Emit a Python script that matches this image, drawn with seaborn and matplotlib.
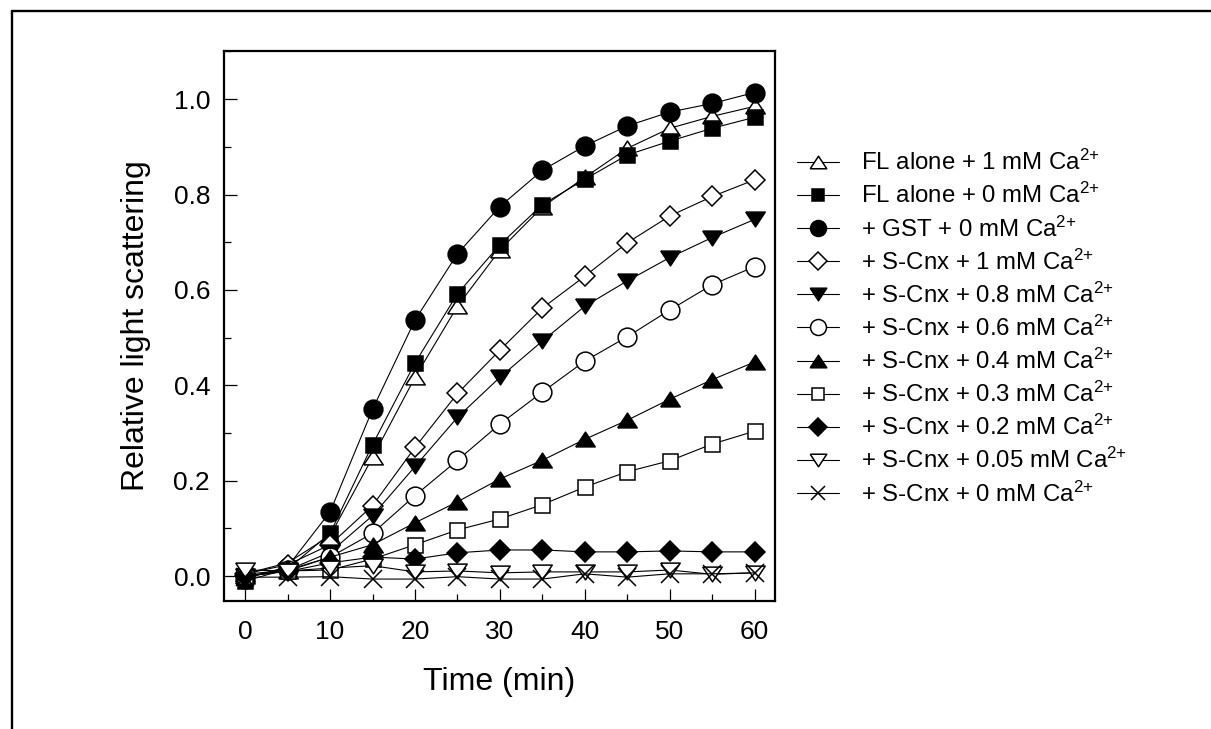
import numpy as np
import pandas as pd
import matplotlib
matplotlib.use("Agg")
import matplotlib.pyplot as plt
from matplotlib.lines import Line2D
from matplotlib.ticker import MultipleLocator, FormatStrFormatter
import seaborn as sns

sns.set_style("white")
plt.rcParams["font.family"] = ["Liberation Sans", "DejaVu Sans"]
plt.rcParams["mathtext.fontset"] = "custom"
plt.rcParams["mathtext.rm"] = "Liberation Sans"
plt.rcParams["mathtext.it"] = "Liberation Sans"
plt.rcParams["mathtext.bf"] = "Liberation Sans:bold"
plt.rcParams["mathtext.default"] = "regular"
for key in ("text.color", "axes.labelcolor", "xtick.color", "ytick.color",
            "xtick.labelcolor", "ytick.labelcolor"):
    plt.rcParams[key] = "black"

# Time points (min)
time_min = [0, 5, 10, 15, 20, 25, 30, 35, 40, 45, 50, 55, 60]

# Relative light scattering for each condition
fl_alone_1mM = [0.005, 0.028, 0.085, 0.249, 0.417, 0.566, 0.684, 0.774, 0.836, 0.897, 0.939, 0.964, 0.985]
fl_alone_0mM = [-0.010, 0.015, 0.090, 0.276, 0.447, 0.592, 0.695, 0.779, 0.832, 0.883, 0.912, 0.939, 0.962]
gst_0mM = [-0.005, 0.020, 0.135, 0.350, 0.537, 0.676, 0.775, 0.851, 0.902, 0.944, 0.973, 0.991, 1.014]
scnx_1mM = [0.005, 0.024, 0.066, 0.148, 0.270, 0.383, 0.474, 0.562, 0.629, 0.699, 0.755, 0.796, 0.831]
scnx_08mM = [0.000, 0.013, 0.050, 0.127, 0.230, 0.333, 0.417, 0.493, 0.566, 0.619, 0.668, 0.710, 0.748]
scnx_06mM = [0.004, 0.013, 0.040, 0.090, 0.169, 0.243, 0.319, 0.386, 0.451, 0.502, 0.558, 0.611, 0.649]
scnx_04mM = [0.000, 0.011, 0.040, 0.066, 0.112, 0.156, 0.204, 0.243, 0.287, 0.327, 0.371, 0.412, 0.449]
scnx_03mM = [0.000, 0.011, 0.013, 0.036, 0.066, 0.097, 0.120, 0.150, 0.187, 0.219, 0.242, 0.277, 0.304]
scnx_02mM = [0.000, 0.010, 0.028, 0.040, 0.036, 0.049, 0.055, 0.055, 0.051, 0.051, 0.053, 0.051, 0.051]
scnx_005mM = [0.013, 0.011, 0.017, 0.022, 0.009, 0.011, 0.007, 0.009, 0.009, 0.009, 0.013, 0.004, 0.007]
scnx_0mM = [-0.002, -0.002, -0.001, -0.006, -0.006, -0.001, -0.006, -0.006, 0.005, -0.002, 0.005, 0.005, 0.007]

labels = [
    "FL alone + 1 mM Ca$^{2{+}}$",
    "FL alone + 0 mM Ca$^{2{+}}$",
    "+ GST + 0 mM Ca$^{2{+}}$",
    "+ S-Cnx + 1 mM Ca$^{2{+}}$",
    "+ S-Cnx + 0.8 mM Ca$^{2{+}}$",
    "+ S-Cnx + 0.6 mM Ca$^{2{+}}$",
    "+ S-Cnx + 0.4 mM Ca$^{2{+}}$",
    "+ S-Cnx + 0.3 mM Ca$^{2{+}}$",
    "+ S-Cnx + 0.2 mM Ca$^{2{+}}$",
    "+ S-Cnx + 0.05 mM Ca$^{2{+}}$",
    "+ S-Cnx + 0 mM Ca$^{2{+}}$",
]
series = [fl_alone_1mM, fl_alone_0mM, gst_0mM, scnx_1mM, scnx_08mM, scnx_06mM,
          scnx_04mM, scnx_03mM, scnx_02mM, scnx_005mM, scnx_0mM]

# Flattened triangles (wider than tall)
tri_up = [(-1, -0.76), (1, -0.76), (0, 0.76), (-1, -0.76)]
tri_down = [(-1, 0.76), (1, 0.76), (0, -0.76), (-1, 0.76)]

# marker, size (pt), face colour
styles = [
    (tri_up, 14.0, "white"),
    ("s", 10.8, "black"),
    ("o", 13.5, "black"),
    ("D", 10.4, "white"),
    (tri_down, 14.0, "black"),
    ("o", 13.5, "white"),
    (tri_up, 14.0, "black"),
    ("s", 10.8, "white"),
    ("D", 10.4, "black"),
    (tri_down, 14.0, "white"),
    ("x", 12.5, "black"),
]

frames = []
for lab, vals in zip(labels, series):
    frames.append(pd.DataFrame({"time": time_min, "scatter": vals, "condition": lab}))
df = pd.concat(frames, ignore_index=True)

fig = plt.figure(figsize=(12.11, 7.29), dpi=100)
ax = fig.add_axes([0.18497, 0.17558, 0.455, 0.75446])

for lab, (mk, ms, fc) in zip(labels, styles):
    sub = df[df["condition"] == lab]
    sns.lineplot(data=sub, x="time", y="scatter", ax=ax, color="black",
                 linewidth=0.8, marker=mk, markersize=ms,
                 markerfacecolor=fc, markeredgecolor="black",
                 markeredgewidth=1.1, label=lab, estimator=None,
                 errorbar=None, sort=False)

ax.set_xlim(-2.5, 62.4)
ax.set_ylim(-0.052, 1.101)
ax.xaxis.set_major_locator(MultipleLocator(10))
ax.xaxis.set_minor_locator(MultipleLocator(5))
ax.yaxis.set_major_locator(MultipleLocator(0.2))
ax.yaxis.set_minor_locator(MultipleLocator(0.1))
ax.yaxis.set_major_formatter(FormatStrFormatter("%.1f"))

ax.tick_params(which="both", direction="in", color="black", width=0.9,
               bottom=True, left=True, top=False, right=False)
ax.tick_params(which="major", length=9, labelsize=19, pad=10, labelcolor="black")
ax.tick_params(axis="x", which="major", pad=14)
ax.tick_params(which="minor", length=4.7)
for sp in ax.spines.values():
    sp.set_visible(True)
    sp.set_color("black")
    sp.set_linewidth(1.6)

ax.set_xlabel("Time (min)", fontsize=23, labelpad=16, color="black")
ax.set_ylabel("Relative light scattering", fontsize=23, labelpad=16, color="black")

leg = ax.legend(loc="upper left", bbox_to_anchor=(797 / 1211, 1 - 150 / 729),
                bbox_transform=fig.transFigure, frameon=False, fontsize=17.3,
                handlelength=1.75, handletextpad=0.9, labelspacing=0.33,
                borderpad=0, borderaxespad=0, markerscale=0.85)
for txt in leg.get_texts():
    txt.set_color("black")

# Page frame (top and left edges)
fig.add_artist(Line2D([12 / 1211, 1.0], [1 - 11 / 729, 1 - 11 / 729],
                      transform=fig.transFigure, color="black", linewidth=1.7))
fig.add_artist(Line2D([12 / 1211, 12 / 1211], [0.0, 1 - 11 / 729],
                      transform=fig.transFigure, color="black", linewidth=1.7))

fig.savefig("out.png", dpi=100)
